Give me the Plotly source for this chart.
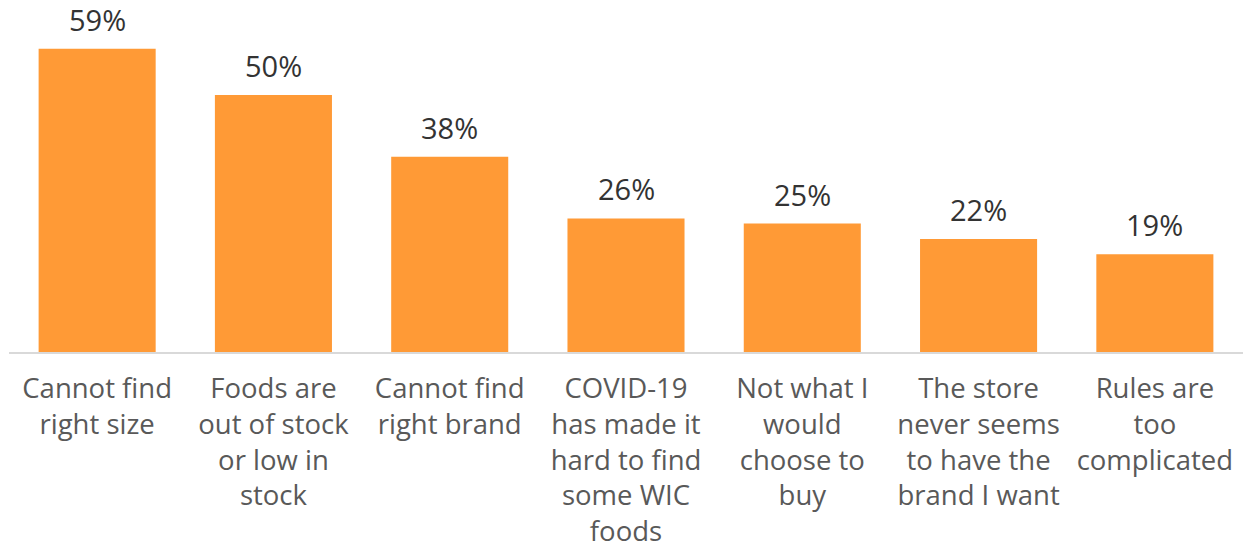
import plotly.graph_objects as go

# Reasons WIC participants give for difficulty finding foods (% of respondents)
categories = [
    "Cannot find<br>right size",
    "Foods are<br>out of stock<br>or low in<br>stock",
    "Cannot find<br>right brand",
    "COVID-19<br>has made it<br>hard to find<br>some WIC<br>foods",
    "Not what I<br>would<br>choose to<br>buy",
    "The store<br>never seems<br>to have the<br>brand I want",
    "Rules are<br>too<br>complicated",
]
values = [59, 50, 38, 26, 25, 22, 19]
value_labels = [f"{v}%" for v in values]

BAR_COLOR = "#FF9A36"
FONT = "Open Sans"

fig = go.Figure(
    go.Bar(
        x=categories,
        y=values,
        marker=dict(color=BAR_COLOR, line=dict(width=0)),
        cliponaxis=False,
    )
)

# Percentage labels sitting above each bar
for cat, val, lab in zip(categories, values, value_labels):
    fig.add_annotation(
        x=cat,
        y=val,
        text=lab,
        showarrow=False,
        yanchor="bottom",
        yshift=8,
        font=dict(family=FONT, size=29, color="#333333"),
    )

fig.update_layout(
    width=1247,
    height=552,
    margin=dict(l=9, r=4, t=18, b=200, autoexpand=False),
    paper_bgcolor="white",
    plot_bgcolor="white",
    bargap=0.336,
    showlegend=False,
    font=dict(family=FONT, size=27.5, color="#595959"),
)

fig.update_xaxes(
    automargin=False,
    showline=True,
    linecolor="#D9D9D9",
    linewidth=2,
    showgrid=False,
    ticks="",
    tickangle=0,
    ticklabelstandoff=11,
    tickfont=dict(family=FONT, size=27.5, color="#595959"),
)

fig.update_yaxes(
    automargin=False,
    range=[0, 65],
    showgrid=False,
    showticklabels=False,
    zeroline=False,
    showline=False,
)

fig.write_html("out.html")
